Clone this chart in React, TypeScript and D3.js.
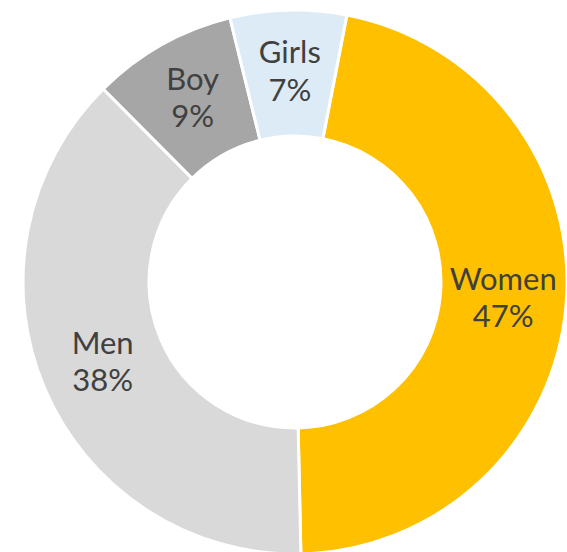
import React from "react";
import * as d3 from "d3";

const categories = ["Women", "Men", "Boy", "Girls"];
const values = [46.6, 37.9, 8.6, 6.9];
const colors = ["#FFC000", "#D9D9D9", "#A6A6A6", "#DDEBF7"];

const W = 567;
const H = 552;
const cx = 295;
const cy = 282;
const outerR = 272;
const innerR = 146;
const startDeg = 11;

export default function App() {
  const total = d3.sum(values);
  const pie = d3
    .pie<number>()
    .sort(null)
    .startAngle((startDeg * Math.PI) / 180)
    .endAngle((startDeg * Math.PI) / 180 + 2 * Math.PI);
  const arcs = pie(values);
  const arc = d3.arc<d3.PieArcDatum<number>>().innerRadius(innerR).outerRadius(outerR);
  const labelArc = d3
    .arc<d3.PieArcDatum<number>>()
    .innerRadius((innerR + outerR) / 2)
    .outerRadius((innerR + outerR) / 2);

  return (
    <svg
      width={W}
      height={H}
      style={{ position: "absolute", left: 0, top: 0, background: "#fff" }}
    >
      <g transform={`translate(${cx},${cy})`}>
        {arcs.map((a, i) => (
          <path
            key={categories[i]}
            d={arc(a) || ""}
            fill={colors[i]}
            stroke="#ffffff"
            strokeWidth={3}
          />
        ))}
        {arcs.map((a, i) => {
          const [x, y] = labelArc.centroid(a);
          const pct = Math.round((values[i] / total) * 100);
          return (
            <text
              key={"l" + categories[i]}
              x={x}
              y={y}
              textAnchor="middle"
              fill="#404040"
              fontFamily="Lato, 'Open Sans', sans-serif"
              fontSize={31}
            >
              <tspan x={x} dy="-0.31em">{categories[i]}</tspan>
              <tspan x={x} dy="1.2em">{pct}%</tspan>
            </text>
          );
        })}
      </g>
    </svg>
  );
}
